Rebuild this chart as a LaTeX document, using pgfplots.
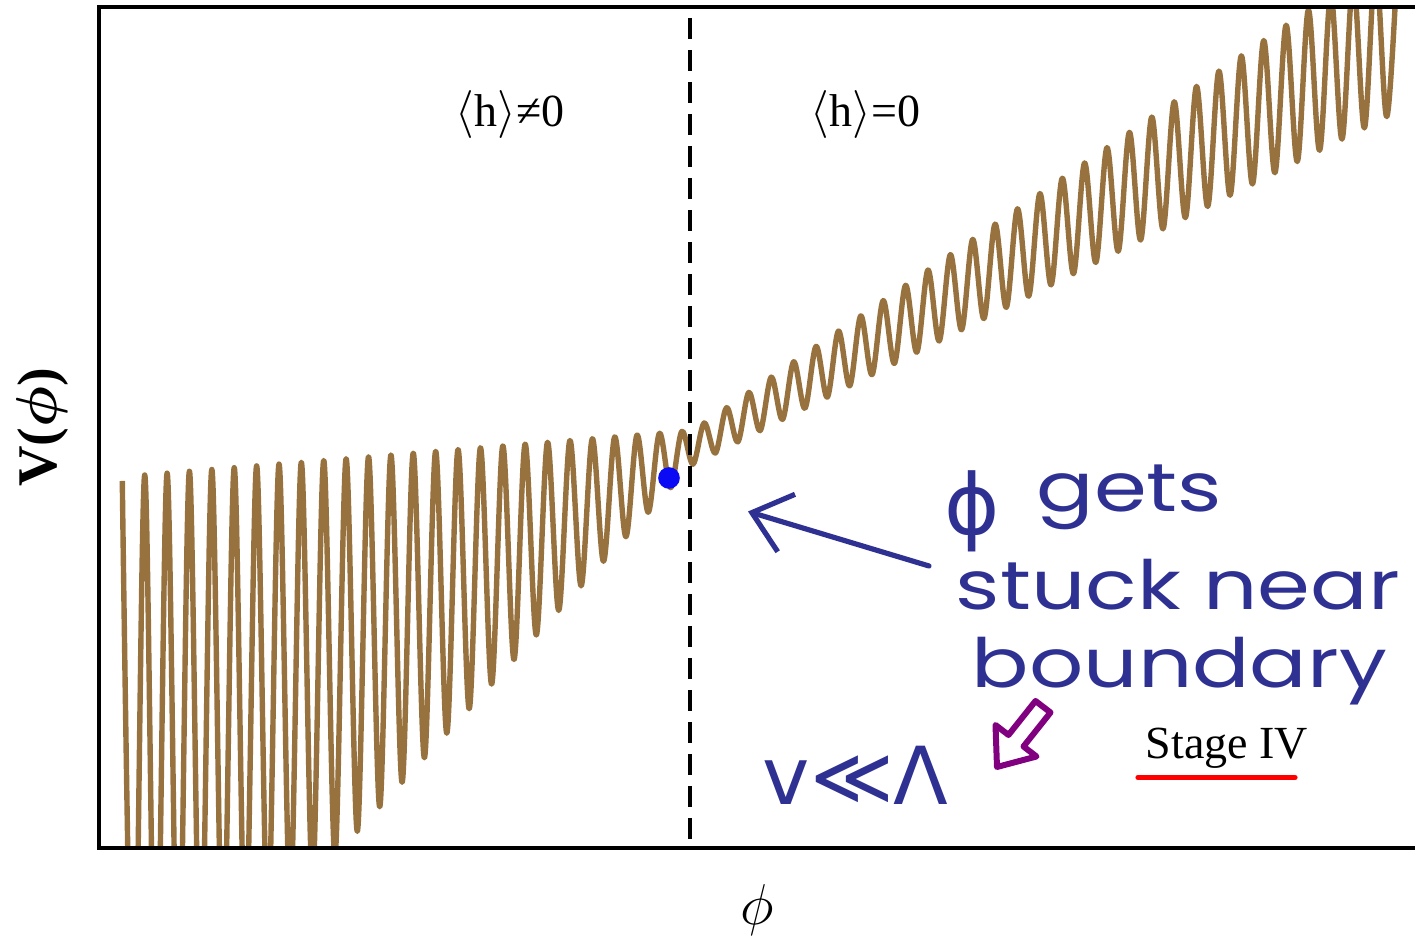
\documentclass[border=0pt]{standalone}
\usepackage{pgfplots}
\pgfplotsset{compat=1.18}
\usepackage{fontspec}
\setmainfont{Liberation Serif}
\newfontfamily\handfont[FakeStretch=1.25]{Poppins}
\newfontfamily\symhand{DejaVu Sans}
\usepackage{bm}
\usetikzlibrary{arrows.meta}
\definecolor{curvebrown}{RGB}{152,114,62}
\definecolor{ink}{RGB}{46,49,146}
\definecolor{inkpurple}{RGB}{128,0,128}
\definecolor{dotblue}{RGB}{10,10,245}

\begin{document}
\begin{tikzpicture}
\path[use as bounding box] (0pt,0pt) rectangle (353.75pt,235pt);
\begin{axis}[
  at={(24.75pt,23pt)}, anchor=south west,
  width=329pt, height=210.25pt, scale only axis,
  xmin=99, xmax=1415, ymin=0, ymax=841,
  axis lines=none, xtick=\empty, ytick=\empty,
  clip mode=individual,
]
% potential: peaks and troughs of the oscillating V(phi)
\addplot[curvebrown, line width=1.35pt, smooth, tension=0.55, line join=round] coordinates {
(122.3,367.0) (133.5,-228.9) (144.7,373.0) (155.9,-204.3) (167.1,374.8)
(178.3,-179.8) (189.4,376.7) (200.6,-155.3) (211.8,378.5) (223.0,-130.7)
(234.2,380.3) (245.4,-106.2) (256.6,382.1) (267.8,-81.6) (279.0,383.9)
(290.2,-57.0) (301.3,385.7) (312.5,-32.6) (323.7,387.5) (334.9,-8.0)
(346.1,389.3) (357.3,16.6) (368.5,391.2) (379.7,41.2) (390.9,393.0)
(402.1,65.7) (413.2,394.8) (424.4,90.2) (435.6,396.6) (446.8,114.8)
(458.0,398.4) (469.2,139.3) (480.4,400.2) (491.6,163.9) (502.8,402.0)
(514.0,188.5) (525.1,403.8) (536.3,213.0) (547.5,405.7) (558.7,237.5)
(569.9,407.5) (581.1,262.1) (592.3,409.3) (603.5,286.7) (614.7,411.1)
(625.9,311.2) (637.0,412.9) (648.2,335.7) (659.4,414.7) (670.6,360.3)
(681.8,416.5) (693.0,383.7) (704.2,425.1) (715.4,394.9) (726.6,440.4)
(737.8,406.1) (748.9,455.6) (760.1,417.3) (771.3,470.9) (782.5,428.5)
(793.7,486.2) (804.9,439.7) (816.1,501.6) (827.3,450.9) (838.5,516.9)
(849.7,462.2) (860.8,532.1) (872.0,473.3) (883.2,547.4) (894.4,484.6)
(905.6,562.7) (916.8,495.8) (928.0,578.0) (939.2,507.0) (950.4,593.4)
(961.6,518.2) (972.7,608.6) (983.9,529.4) (995.1,623.9) (1006.3,540.6)
(1017.5,639.2) (1028.7,551.8) (1039.9,654.5) (1051.1,563.1) (1062.3,669.8)
(1073.5,574.3) (1084.6,685.1) (1095.8,585.5) (1107.0,700.4) (1118.2,596.7)
(1129.4,715.7) (1140.6,607.9) (1151.8,731.0) (1163.0,619.1) (1174.2,746.3)
(1185.4,630.3) (1196.5,761.6) (1207.7,641.5) (1218.9,776.9) (1230.1,652.7)
(1241.3,792.2) (1252.5,664.0) (1263.7,807.5) (1274.9,675.2) (1286.1,822.8)
(1297.3,686.4) (1308.4,838.0) (1319.6,697.6) (1330.8,853.4) (1342.0,708.8)
(1353.2,868.7) (1364.4,720.0) (1375.6,884.0) (1386.8,731.3) (1398.0,899.3)
};
% boundary between the two Higgs phases
\addplot[black, line width=1pt, dash pattern=on 5.25pt off 2.75pt, dash phase=5.25pt]
  coordinates {(690,841) (690,0)};
% where the field settles
\addplot[only marks, mark=*, mark size=2.5pt, dotblue, mark options={draw=dotblue, fill=dotblue}]
  coordinates {(669,370)};

% frame: top, left and bottom
\draw[line width=0.85pt] (rel axis cs:1,1) -- (rel axis cs:0,1) -- (rel axis cs:0,0) -- (rel axis cs:1,0);

% axis labels
\node[rotate=90, font=\fontsize{14}{16}\selectfont\bfseries] at (axis description cs:-0.0426,0.5) {V($\bm{\phi}$)};
\node[font=\fontsize{14}{16}\selectfont] at (axis description cs:0.5,-0.0737) {$\phi$};

% phase labels
\node[anchor=base west, inner sep=0pt, font=\fontsize{11.5}{13}\selectfont] at (axis cs:455,721.3) {$\langle$h$\rangle$≠0};
\node[anchor=base west, inner sep=0pt, font=\fontsize{11.5}{13}\selectfont] at (axis cs:810,721.3) {$\langle$h$\rangle$=0};
\node[anchor=base west, inner sep=0pt, font=\fontsize{11.5}{13}\selectfont] at (axis cs:1145,89.7) {Stage IV};
\draw[red, line width=1.3pt, line cap=round] (axis cs:1138,70.5) -- (axis cs:1295,70.5);

% handwritten notes
\draw[ink, line width=1.3pt, line cap=round, line join=round,
      -{Straight Barb[length=9pt, width=15pt, line width=1.3pt]}]
  (axis cs:929,282) -- (axis cs:748,336.5);
\node[ink, anchor=base west, inner sep=0pt, font=\symhand\fontsize{21}{24}\selectfont] at (axis cs:944,313) {ϕ};
\node[ink, anchor=base west, inner sep=0pt, font=\handfont\fontsize{17}{20}\selectfont] at (axis cs:1036,336) {gets};
\node[ink, anchor=base west, inner sep=0pt, font=\handfont\fontsize{17}{20}\selectfont] at (axis cs:955,238) {stuck near};
\node[ink, anchor=base west, inner sep=0pt, font=\handfont\fontsize{17}{20}\selectfont] at (axis cs:971,160) {boundary};
\node[ink, anchor=base west, inner sep=0pt, font=\symhand\fontsize{20}{24}\selectfont] at (axis cs:762,43) {v≪Λ};
\draw[inkpurple, line width=1.5pt, line join=round]
  (axis cs:997,81) -- (axis cs:1036.5,91.5) -- (axis cs:1023.5,101.5) -- (axis cs:1050.5,135.5)
  -- (axis cs:1035.5,147) -- (axis cs:1008.5,113) -- (axis cs:995.5,123) -- cycle;
\end{axis}
\end{tikzpicture}
\end{document}
